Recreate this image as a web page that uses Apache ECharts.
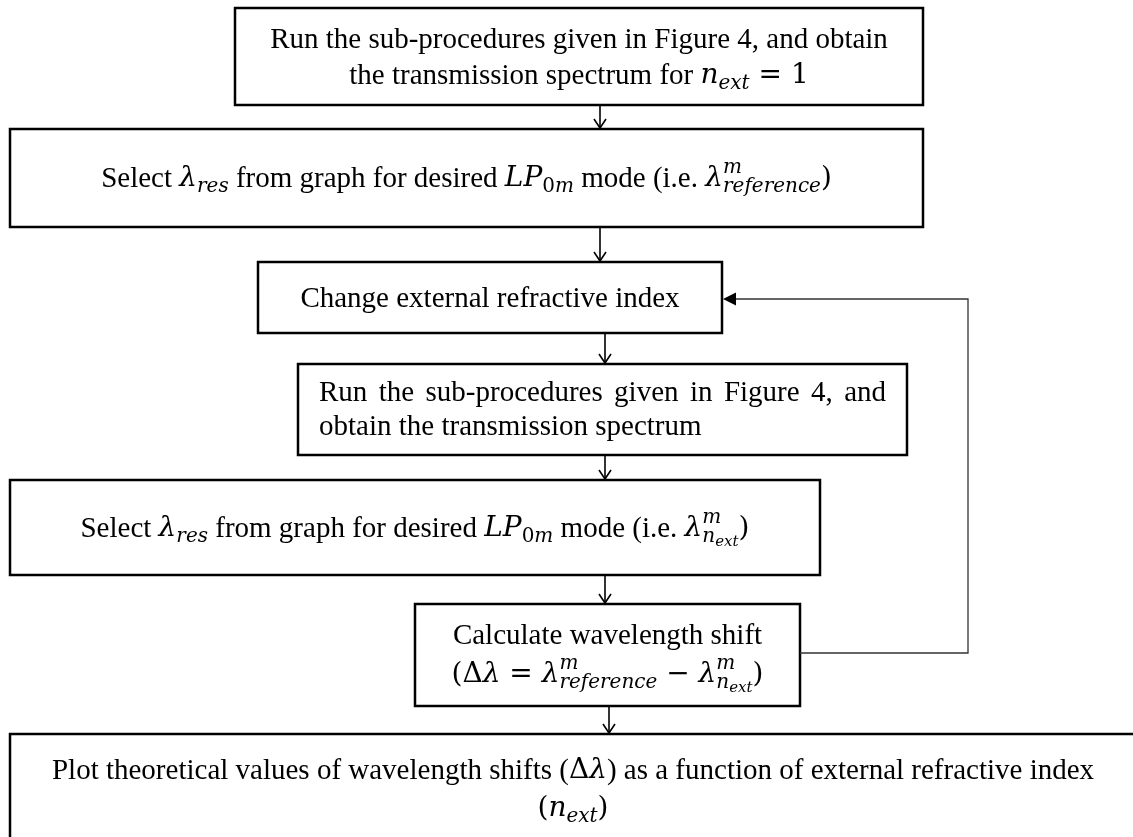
<!DOCTYPE html>
<html>
<head>
<meta charset="utf-8">
<title>Flowchart</title>
<script src="https://cdn.jsdelivr.net/npm/echarts@6/dist/echarts.min.js"></script>
<style>
    html, body { margin: 0; padding: 0; background: #fff; }
    #main { width: 1133px; height: 837px; }
</style>
</head>
<body>
<div id="main"></div>
<script>
// step texts, one entry per box; each line is a list of [style, text] runs
var stepText = [
    [
        [['rm', 'Run the sub-procedures given in Figure 4, and obtain']],
        [['rm', 'the transmission spectrum for '], ['mi', 'n'], ['sub', 'ext'], ['mr', ' = 1']]
    ],
    [
        [['rm', 'Select '], ['mi', 'λ'], ['sub', 'res'], ['rm', ' from graph for desired '], ['mi', 'LP'], ['subrm', '0'], ['sub', 'm'],
         ['rm', ' mode (i.e. '], ['mi', 'λ'], ['sup0', 'm'], ['sub', 'reference'], ['mr', ')']]
    ],
    [
        [['rm', 'Change external refractive index']]
    ],
    [
        [['rm', 'Run the sub-procedures given in Figure 4, and']],
        [['rm', 'obtain the transmission spectrum']]
    ],
    [
        [['rm', 'Select '], ['mi', 'λ'], ['sub', 'res'], ['rm', ' from graph for desired '], ['mi', 'LP'], ['subrm', '0'], ['sub', 'm'],
         ['rm', ' mode (i.e. '], ['mi', 'λ'], ['sup0', 'm'], ['sub', 'n'], ['subsub', 'ext'], ['mr', ')']]
    ],
    [
        [['rm', 'Calculate wavelength shift']],
        [['mr', '(Δ'], ['mi', 'λ'], ['mr', ' = '], ['mi', 'λ'], ['sup0', 'm'], ['sub', 'reference'], ['mr', ' − '],
         ['mi', 'λ'], ['sup0', 'm'], ['sub', 'n'], ['subsub', 'ext'], ['mr', ')']]
    ],
    [
        [['rm', 'Plot theoretical values of wavelength shifts ('], ['mr', 'Δ'], ['mi', 'λ'], ['rm', ') as a function of external refractive index']],
        [['mr', '('], ['mi', 'n'], ['sub', 'ext'], ['mr', ')']]
    ]
];

// links between steps: straight down arrows, and the loop back
var stepLinks = [[0, 1], [1, 2], [2, 3], [3, 4], [4, 5], [5, 6]];
var loopLink = [5, 2];

// layout (page pixels)
var boxRect = [
    [235, 8, 923, 105],
    [10, 129, 923, 227],
    [258, 262, 722, 333],
    [298, 364, 907, 455],
    [10, 480, 820, 575],
    [415, 604, 800, 706],
    [10, 734, 1136, 850]
];
var lineY = [[40, 76], [179], [299], [393, 427], [529], [636, 675], [771, 809]];
var lineAlign = [['center', 'center'], ['center'], ['center'], ['justify', 'left'], ['center'], ['center', 'center'], ['center', 'center']];
var arrowX = [600, 600, 605, 605, 605, 609];
var loopX = 968, loopOutY = 653, loopInY = 299;

var runFont = {
    rm:     { style: 'normal', size: 29, family: '"Liberation Serif"', dy: 0 },
    mi:     { style: 'italic', size: 28, family: '"DejaVu Serif"', dy: 0 },
    mr:     { style: 'normal', size: 28, family: '"DejaVu Serif"', dy: 0 },
    sub:    { style: 'italic', size: 20, family: '"DejaVu Serif"', dy: 8 },
    subrm:  { style: 'normal', size: 20, family: '"DejaVu Serif"', dy: 8 },
    subsub: { style: 'italic', size: 15, family: '"DejaVu Serif"', dy: 13 },
    sup0:   { style: 'italic', size: 20, family: '"DejaVu Serif"', dy: -11, noAdvance: true }
};
var textPad = 21;

var measureCtx = document.createElement('canvas').getContext('2d');
function textWidth(text, f) {
    measureCtx.font = f.style + ' ' + f.size + 'px ' + f.family;
    return measureCtx.measureText(text).width;
}

// turn one line of runs into positioned pieces
function layoutLine(runs, align, rect, y) {
    var pieces = [];
    if (align === 'justify') {
        var f0 = runFont.rm;
        var words = runs[0][1].split(' ');
        var sum = 0;
        words.forEach(function (w) { sum += textWidth(w, f0); });
        var gap = (rect[2] - rect[0] - 2 * textPad - sum) / (words.length - 1);
        var xj = rect[0] + textPad;
        words.forEach(function (w) {
            pieces.push({ x: xj, y: y, text: w, f: f0 });
            xj += textWidth(w, f0) + gap;
        });
        return pieces;
    }
    var total = 0;
    runs.forEach(function (r) {
        var f = runFont[r[0]];
        if (!f.noAdvance) total += textWidth(r[1], f);
    });
    var x = align === 'left' ? rect[0] + textPad : (rect[0] + rect[2]) / 2 - total / 2;
    runs.forEach(function (r) {
        var f = runFont[r[0]];
        pieces.push({ x: x, y: y + f.dy, text: r[1], f: f });
        if (!f.noAdvance) x += textWidth(r[1], f);
    });
    return pieces;
}

var boxPieces = stepText.map(function (lines, i) {
    var out = [];
    lines.forEach(function (runs, j) {
        out = out.concat(layoutLine(runs, lineAlign[i][j], boxRect[i], lineY[i][j]));
    });
    return out;
});

var boxData = boxRect.map(function (r, i) { return [r[0], r[1], r[2], r[3], i]; });
var arrowData = stepLinks.map(function (l, i) {
    return [arrowX[i], boxRect[l[0]][3], boxRect[l[1]][1]];
});
var loopData = [[boxRect[loopLink[0]][2], loopOutY, loopX, loopInY, boxRect[loopLink[1]][2]]];

var myChart = echarts.init(document.getElementById('main'));

var option = {
    backgroundColor: '#fff',
    animation: false,
    grid: { left: 0, right: 0, top: 0, bottom: 0 },
    xAxis: { type: 'value', min: 0, max: 1133, show: false },
    yAxis: { type: 'value', min: 0, max: 837, inverse: true, show: false },
    series: [
        {
            // boxes with their texts
            type: 'custom',
            data: boxData,
            renderItem: function (params, api) {
                var p0 = api.coord([api.value(0), api.value(1)]);
                var p1 = api.coord([api.value(2), api.value(3)]);
                var children = [{
                    type: 'rect',
                    shape: { x: p0[0], y: p0[1], width: p1[0] - p0[0], height: p1[1] - p0[1] },
                    style: { fill: '#fff', stroke: '#000', lineWidth: 2.5 }
                }];
                boxPieces[api.value(4)].forEach(function (pc) {
                    var pt = api.coord([pc.x, pc.y]);
                    children.push({
                        type: 'text',
                        x: pt[0],
                        y: pt[1],
                        style: {
                            text: pc.text,
                            fontStyle: pc.f.style,
                            fontSize: pc.f.size,
                            fontFamily: pc.f.family,
                            fill: '#000',
                            align: 'left',
                            verticalAlign: 'middle'
                        }
                    });
                });
                return { type: 'group', children: children };
            }
        },
        {
            // down arrows between steps
            type: 'custom',
            data: arrowData,
            renderItem: function (params, api) {
                var a = api.coord([api.value(0), api.value(1)]);
                var b = api.coord([api.value(0), api.value(2)]);
                var lineStyle = { stroke: '#000', lineWidth: 1.6, fill: null };
                return {
                    type: 'group',
                    children: [
                        { type: 'line', shape: { x1: a[0], y1: a[1], x2: b[0], y2: b[1] - 1 }, style: lineStyle },
                        { type: 'polyline', shape: { points: [[b[0] - 6, b[1] - 10], [b[0], b[1] - 1], [b[0] + 6, b[1] - 10]] }, style: lineStyle }
                    ]
                };
            }
        },
        {
            // loop back to "Change external refractive index"
            type: 'custom',
            data: loopData,
            renderItem: function (params, api) {
                var s = api.coord([api.value(0), api.value(1)]);
                var c1 = api.coord([api.value(2), api.value(1)]);
                var c2 = api.coord([api.value(2), api.value(3)]);
                var t = api.coord([api.value(4), api.value(3)]);
                return {
                    type: 'group',
                    children: [
                        {
                            type: 'polyline',
                            shape: { points: [s, c1, c2, [t[0] + 12, t[1]]] },
                            style: { stroke: '#333', lineWidth: 1.3, fill: null }
                        },
                        {
                            type: 'polygon',
                            shape: { points: [[t[0] + 1, t[1]], [t[0] + 14, t[1] - 6.5], [t[0] + 14, t[1] + 6.5]] },
                            style: { fill: '#000' }
                        }
                    ]
                };
            }
        }
    ]
};

myChart.setOption(option);
</script>
</body>
</html>
